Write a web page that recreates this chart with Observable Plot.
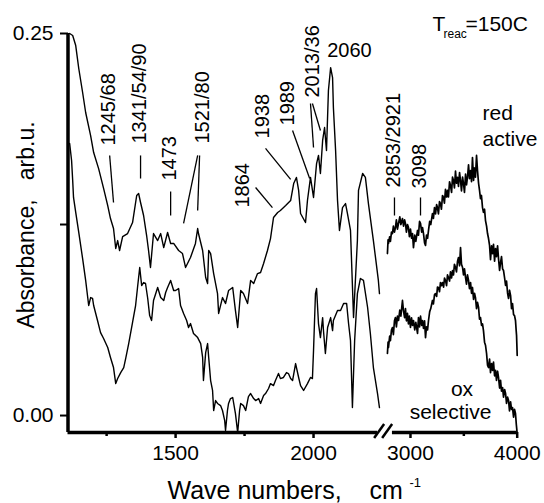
<!DOCTYPE html>
<html><head><meta charset="utf-8">
<script src="https://cdn.jsdelivr.net/npm/d3@7"></script>
<script src="https://cdn.jsdelivr.net/npm/@observablehq/plot@0.6"></script>
<style>body{margin:0;background:#fff}svg{display:block}</style>
</head><body><div id="chart"></div>
<script>
// ---- data (wavenumber in cm-1, absorbance in arb.u.) ----
const redLeftWn = [1116,1127,1138,1149,1163,1174,1192,1203,1221,1239,1254,1264,1275,1283,1290,1297,1308,1326,1344,1359,1366,1373,1384,1395,1402,1409,1420,1435,1446,1457,1471,1482,1493,1511,1525,1536,1554,1572,1580,1583,1598,1609,1616,1620,1627,1638,1652,1656,1670,1681,1692,1707,1717,1725,1736,1746,1761,1772,1783,1797,1808,1819,1833,1844,1855,1870,1880,1899,1917,1928,1938,1946,1953,1971,1978,1989,2000,2011,2018,2025,2033,2040,2047,2054,2062,2069,2072,2080,2087,2094,2105,2116,2123,2134,2145,2159,2163,2178,2188,2199,2217,2235,2239];
const redLeftAbs = [0.2500,0.2487,0.2421,0.2271,0.2114,0.1983,0.1832,0.1721,0.1616,0.1486,0.1374,0.1289,0.1224,0.1093,0.1145,0.1080,0.1171,0.1191,0.1263,0.1440,0.1453,0.1394,0.1309,0.1178,0.1080,0.0969,0.1191,0.1145,0.1191,0.1099,0.1198,0.1126,0.1126,0.1080,0.1060,0.0969,0.1034,0.1126,0.1224,0.1191,0.1080,0.0903,0.0864,0.1080,0.1060,0.0929,0.0798,0.0668,0.0772,0.0733,0.0818,0.0838,0.0687,0.0576,0.0818,0.0798,0.0733,0.0884,0.0864,0.0929,0.0936,0.0995,0.1080,0.1158,0.1296,0.1329,0.1342,0.1374,0.1407,0.1518,0.1558,0.1473,0.1322,0.1263,0.1407,0.1558,0.1427,0.1649,0.1702,0.1584,0.1800,0.1885,0.1734,0.2127,0.2277,0.2212,0.2016,0.1734,0.1407,0.1211,0.1361,0.1387,0.1322,0.1211,0.0641,0.1145,0.1473,0.1584,0.1558,0.1387,0.1145,0.0884,0.0798];

const redRightWn = [2784,2790,2794,2805,2812,2822,2831,2840,2850,2859,2868,2878,2888,2900,2910,2925,2935,2945,2953,2962,2972,2981,2990,3000,3010,3019,3028,3040,3050,3066,3075,3085,3094,3105,3113,3122,3132,3141,3150,3160,3169,3180,3190,3206,3215,3225,3235,3245,3253,3262,3272,3281,3290,3300,3309,3318,3328,3338,3347,3356,3366,3375,3385,3394,3403,3412,3422,3431,3441,3450,3460,3469,3478,3488,3497,3506,3516,3525,3534,3544,3553,3563,3572,3581,3591,3600,3609,3619,3628,3638,3647,3656,3665,3675,3684,3694,3703,3713,3722,3731,3741,3750,3760,3769,3778,3788,3797,3806,3816,3825,3835,3844,3853,3863,3872,3882,3891,3900,3910,3919,3928,3938,3947,3956,3966,3975,3984,3990,3994,4000];
const redRightAbs = [0.1060,0.1150,0.1126,0.1170,0.1140,0.1200,0.1191,0.1240,0.1200,0.1230,0.1280,0.1220,0.1257,0.1300,0.1250,0.1289,0.1240,0.1280,0.1257,0.1200,0.1250,0.1230,0.1170,0.1220,0.1160,0.1191,0.1099,0.1180,0.1140,0.1211,0.1180,0.1270,0.1257,0.1200,0.1230,0.1191,0.1130,0.1113,0.1180,0.1160,0.1211,0.1270,0.1250,0.1322,0.1290,0.1360,0.1320,0.1380,0.1361,0.1320,0.1400,0.1387,0.1350,0.1440,0.1427,0.1390,0.1480,0.1430,0.1473,0.1430,0.1530,0.1505,0.1460,0.1560,0.1538,0.1490,0.1600,0.1520,0.1558,0.1500,0.1590,0.1538,0.1470,0.1560,0.1518,0.1460,0.1580,0.1510,0.1558,0.1640,0.1550,0.1603,0.1530,0.1688,0.1538,0.1620,0.1560,0.1702,0.1603,0.1520,0.1473,0.1420,0.1440,0.1361,0.1330,0.1350,0.1276,0.1240,0.1191,0.1160,0.1113,0.1020,0.1110,0.1060,0.1120,0.1010,0.1093,0.1040,0.1110,0.1027,0.0950,0.1001,0.1040,0.0960,0.0949,0.0900,0.0851,0.0880,0.0800,0.0766,0.0820,0.0785,0.0700,0.0733,0.0660,0.0654,0.0622,0.0560,0.0524,0.0393];

const oxLeftWn = [1116,1123,1127,1130,1138,1149,1163,1174,1185,1192,1199,1203,1217,1228,1239,1254,1264,1275,1283,1290,1301,1312,1319,1330,1344,1355,1362,1370,1377,1384,1391,1399,1406,1413,1420,1435,1446,1457,1464,1471,1482,1493,1500,1511,1518,1529,1540,1547,1554,1565,1580,1591,1598,1601,1609,1616,1620,1627,1634,1638,1645,1652,1663,1670,1678,1681,1688,1692,1699,1707,1717,1725,1732,1736,1746,1754,1764,1772,1783,1790,1801,1808,1819,1826,1837,1844,1855,1862,1873,1880,1891,1902,1909,1917,1924,1935,1946,1953,1964,1978,1989,1996,2000,2007,2011,2018,2025,2033,2036,2043,2051,2062,2069,2072,2087,2098,2109,2120,2127,2134,2141,2149,2159,2170,2181,2196,2206,2217,2232,2239];
const oxLeftAbs = [0.1780,0.1669,0.1538,0.1427,0.1329,0.1198,0.1027,0.0884,0.0720,0.0772,0.0766,0.0720,0.0622,0.0543,0.0504,0.0445,0.0380,0.0314,0.0209,0.0242,0.0281,0.0314,0.0373,0.0471,0.0609,0.0720,0.0838,0.0969,0.0851,0.0870,0.0864,0.0766,0.0654,0.0622,0.0753,0.0838,0.0772,0.0753,0.0805,0.0838,0.0884,0.0818,0.0818,0.0831,0.0720,0.0668,0.0622,0.0576,0.0602,0.0537,0.0510,0.0471,0.0380,0.0229,0.0412,0.0471,0.0380,0.0229,0.0164,0.0033,0.0098,0.0079,0.0065,0.0033,-0.0033,-0.0098,0.0033,0.0079,0.0111,0.0118,0.0013,-0.0111,0.0033,0.0079,0.0065,0.0033,0.0124,0.0144,0.0111,0.0098,0.0111,0.0079,0.0131,0.0144,0.0177,0.0209,0.0196,0.0229,0.0275,0.0242,0.0249,0.0281,0.0275,0.0242,0.0229,0.0340,0.0249,0.0196,0.0164,0.0209,0.0249,0.0242,0.0425,0.0798,0.0831,0.0602,0.0510,0.0641,0.0556,0.0406,0.0576,0.0641,0.0556,0.0622,0.0687,0.0687,0.0733,0.0733,0.0602,0.0491,0.0052,0.0491,0.0798,0.0897,0.0884,0.0707,0.0537,0.0314,0.0144,0.0052];

const oxRightWn = [2784,2790,2794,2805,2812,2822,2831,2840,2850,2859,2868,2878,2888,2900,2910,2925,2934,2945,2953,2962,2972,2981,2990,3000,3010,3019,3028,3040,3050,3066,3075,3085,3094,3105,3113,3122,3132,3141,3150,3160,3169,3180,3190,3206,3215,3225,3234,3245,3253,3263,3272,3281,3290,3300,3310,3319,3328,3338,3347,3356,3366,3375,3385,3394,3403,3412,3422,3431,3441,3450,3460,3469,3478,3488,3497,3506,3516,3525,3534,3544,3553,3563,3572,3581,3591,3600,3609,3619,3628,3638,3647,3656,3666,3675,3684,3694,3703,3713,3722,3731,3741,3750,3760,3769,3778,3788,3797,3806,3816,3825,3835,3844,3853,3863,3872,3882,3891,3900,3910,3919,3928,3938,3947,3956,3966,3975,3984,3992,4000];
const oxRightAbs = [0.0406,0.0480,0.0445,0.0520,0.0490,0.0560,0.0576,0.0530,0.0620,0.0641,0.0580,0.0650,0.0622,0.0690,0.0650,0.0753,0.0687,0.0640,0.0700,0.0620,0.0668,0.0600,0.0650,0.0576,0.0640,0.0590,0.0622,0.0560,0.0610,0.0537,0.0641,0.0580,0.0650,0.0590,0.0622,0.0570,0.0620,0.0510,0.0580,0.0560,0.0622,0.0680,0.0700,0.0753,0.0730,0.0790,0.0798,0.0780,0.0840,0.0838,0.0810,0.0870,0.0850,0.0870,0.0840,0.0900,0.0884,0.0850,0.0920,0.0903,0.0880,0.0940,0.0900,0.0949,0.0920,0.0990,0.0969,0.0940,0.1010,0.1034,0.0980,0.1099,0.0990,0.0969,0.0920,0.0960,0.0903,0.0860,0.0920,0.0884,0.0830,0.0870,0.0800,0.0838,0.0760,0.0800,0.0772,0.0700,0.0740,0.0707,0.0630,0.0641,0.0590,0.0600,0.0556,0.0480,0.0460,0.0406,0.0330,0.0314,0.0370,0.0280,0.0340,0.0295,0.0350,0.0260,0.0295,0.0230,0.0290,0.0249,0.0180,0.0230,0.0160,0.0183,0.0120,0.0170,0.0144,0.0080,0.0120,0.0098,0.0030,0.0090,0.0040,0.0052,-0.0010,0.0040,0.0013,-0.0060,-0.0118];

// axis ticks
const xMajorTicks = [1500, 2000, 3000, 4000];
const xMinorTicks = [1250, 1750, 3500];
const yMajorTicks = [0, 0.25];
const yMinorTicks = [0.125];

// peak annotations (rotated labels) and their leader lines
const peakLabels   = ["1245/68","1341/54/90","1473","1521/80","1864","1938","1989","2013/36","2853/2921","3098"];
const peakLabelWn  = [1257,1370,1478,1598,1743,1815,1906,1996,2841,3084];
const peakLabelAbs = [0.1767,0.1780,0.1538,0.1780,0.1361,0.1813,0.1898,0.2081,0.1492,0.1486];
const leaderWn1  = [1261,1373,1482,1580,1587,1790,1826,1924,1989,1996,2850,3094];
const leaderAbs1 = [0.1702,0.1702,0.1466,0.1702,0.1702,0.1492,0.1748,0.1865,0.2042,0.2042,0.1427,0.1427];
const leaderWn2  = [1275,1373,1482,1529,1580,1851,1917,1986,2000,2025,2850,3094];
const leaderAbs2 = [0.1394,0.1551,0.1309,0.1257,0.1342,0.1361,0.1545,0.1551,0.1754,0.1865,0.1309,0.1309];

// scale layout
const xDomain = [1110, 2250, 2780, 4000];
const absMin = -0.0111, absMax = 0.25;
const breakWn = 2500;

// ---- build ----
const toRows = (wn, ab) => d3.zip(wn, ab).map(([w, a]) => ({wn: w, abs: a}));
const leftCurves = [toRows(redLeftWn, redLeftAbs), toRows(oxLeftWn, oxLeftAbs)];
const rightCurves = [toRows(redRightWn, redRightAbs), toRows(oxRightWn, oxRightAbs)];
const labelRows = peakLabels.map((t, i) => ({t, wn: peakLabelWn[i], abs: peakLabelAbs[i]}));
const leaderRows = leaderWn1.map((w, i) => ({x1: w, y1: leaderAbs1[i], x2: leaderWn2[i], y2: leaderAbs2[i]}));

function axisBreak(index, scales) {
  const ns = "http://www.w3.org/2000/svg";
  const cx = scales.x(breakWn), cy = scales.y(absMin);
  const g = document.createElementNS(ns, "g");
  for (const [a, b, c, d] of [[-10, 6, 0, -8], [-2, 6, 8, -8]]) {
    const l = document.createElementNS(ns, "line");
    l.setAttribute("x1", cx + a); l.setAttribute("y1", cy + b);
    l.setAttribute("x2", cx + c); l.setAttribute("y2", cy + d);
    l.setAttribute("stroke", "black"); l.setAttribute("stroke-width", 2.5);
    g.appendChild(l);
  }
  return g;
}

const font = "'Liberation Sans', Arial, Helvetica, sans-serif";
const chart = Plot.plot({
  width: 544, height: 503,
  marginLeft: 68, marginRight: 27, marginTop: 33, marginBottom: 71,
  style: {fontFamily: font, background: "white", color: "black", overflow: "visible"},
  x: {type: "linear", domain: xDomain, range: [67.5, 382, 386.5, 516.7], axis: null},
  y: {domain: [absMin, absMax], axis: null},
  marks: [
    ...leftCurves.map(c => Plot.line(c, {x: "wn", y: "abs", stroke: "black", strokeWidth: 1.4, strokeLinejoin: "round"})),
    ...rightCurves.map(c => Plot.line(c, {x: "wn", y: "abs", stroke: "black", strokeWidth: 1.7, strokeLinejoin: "round"})),
    // axis lines
    Plot.ruleX([xDomain[0]], {y1: absMin, y2: absMax, stroke: "black", strokeWidth: 3.5}),
    Plot.ruleY([absMin], {x1: xDomain[0], x2: 2232, stroke: "black", strokeWidth: 3.5}),
    Plot.ruleY([absMin], {x1: 2831, x2: 4000, stroke: "black", strokeWidth: 3.5}),
    axisBreak,
    Plot.axisX({ticks: xMajorTicks, tickFormat: d3.format("d"), tickSize: 6, tickPadding: 7, fontSize: 21, strokeWidth: 2.5, label: null}),
    Plot.axisX({ticks: xMinorTicks, tickFormat: () => "", tickSize: 4, strokeWidth: 2.5, label: null}),
    Plot.axisY({ticks: yMajorTicks, tickFormat: d => d.toFixed(2), tickSize: 8, tickPadding: 7, fontSize: 21, strokeWidth: 2, label: null}),
    Plot.axisY({ticks: yMinorTicks, tickFormat: () => "", tickSize: 8, strokeWidth: 2, label: null}),
    // peak labels
    Plot.link(leaderRows, {x1: "x1", y1: "y1", x2: "x2", y2: "y2", stroke: "black", strokeWidth: 1.3}),
    Plot.text(labelRows, {x: "wn", y: "abs", text: "t", rotate: -90, textAnchor: "start", lineAnchor: "middle", fontSize: 20, fill: "black"}),
    Plot.text(["2060"], {x: 2130, y: 0.2343, textAnchor: "middle", lineAnchor: "bottom", fontSize: 20, fill: "black"}),
    Plot.text(["red"], {x: 3675, y: 0.1931, textAnchor: "start", lineAnchor: "bottom", fontSize: 21, fill: "black"}),
    Plot.text(["active"], {x: 3675, y: 0.1767, textAnchor: "start", lineAnchor: "bottom", fontSize: 21, fill: "black"}),
    Plot.text(["ox"], {x: 3483, y: 0.0131, textAnchor: "middle", lineAnchor: "bottom", fontSize: 21, fill: "black"}),
    Plot.text(["selective"], {x: 3375, y: -0.0020, textAnchor: "middle", lineAnchor: "bottom", fontSize: 21, fill: "black"}),
    // T_reac
    Plot.text(["T"], {frameAnchor: "top-right", dx: -85, dy: -3, textAnchor: "start", lineAnchor: "bottom", fontSize: 21, fill: "black"}),
    Plot.text(["reac"], {frameAnchor: "top-right", dx: -74, dy: 4, textAnchor: "start", lineAnchor: "bottom", fontSize: 12, fill: "black"}),
    Plot.text(["=150C"], {frameAnchor: "top-right", dx: -52, dy: -3, textAnchor: "start", lineAnchor: "bottom", fontSize: 21, fill: "black"}),
    // axis titles
    Plot.text(["Wave numbers,\u00a0\u00a0\u00a0\u00a0cm"], {frameAnchor: "bottom-left", dx: 99, dy: 66, textAnchor: "start", lineAnchor: "bottom", fontSize: 25, fill: "black"}),
    Plot.text(["-1"], {frameAnchor: "bottom-left", dx: 341, dy: 54, textAnchor: "start", lineAnchor: "bottom", fontSize: 13, fill: "black"}),
    Plot.text(["Absorbance,\u00a0\u00a0\u00a0arb.u."], {frameAnchor: "left", rotate: -90, dx: -35, dy: -8, textAnchor: "middle", lineAnchor: "bottom", fontSize: 23, fill: "black"})
  ]
});
document.getElementById("chart").appendChild(chart);
</script>
</body></html>
